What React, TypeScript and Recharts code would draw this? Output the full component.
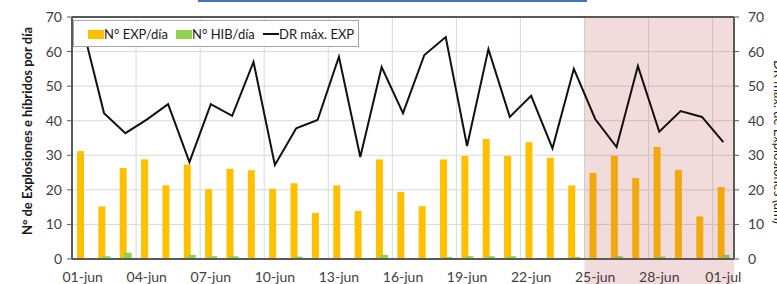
import {
  ComposedChart,
  Bar,
  Line,
  XAxis,
  YAxis,
  CartesianGrid,
  ReferenceArea,
  ReferenceLine,
  Legend,
} from 'recharts'

const days = [
  '01-jun', '02-jun', '03-jun', '04-jun', '05-jun', '06-jun', '07-jun', '08-jun',
  '09-jun', '10-jun', '11-jun', '12-jun', '13-jun', '14-jun', '15-jun', '16-jun',
  '17-jun', '18-jun', '19-jun', '20-jun', '21-jun', '22-jun', '23-jun', '24-jun',
  '25-jun', '26-jun', '27-jun', '28-jun', '29-jun', '30-jun', '01-jul',
]

// N° EXP/día
const expPerDay = [
  31.2, 15.2, 26.3, 28.8, 21.3, 27.3, 20.2, 26.1, 25.7, 20.3, 21.9, 13.3, 21.3, 13.9, 28.8, 19.4,
  15.3, 28.8, 29.8, 34.7, 29.8, 33.8, 29.3, 21.3, 24.9, 29.8, 23.4, 32.4, 25.8, 12.3, 20.8,
]

// N° HIB/día
const hibPerDay = [
  0, 0.8, 1.8, 0, 0, 1.2, 0.8, 0.8, 0, 0, 0.7, 0, 0, 0, 1.2, 0,
  0, 0.6, 0.8, 0.8, 0.8, 0, 0, 0.6, 0, 0.8, 0, 0.7, 0, 0, 1.2,
]

// DR máx. EXP (right axis)
const drMaxExp = [
  67, 42.2, 36.4, 40.3, 44.8, 28, 44.8, 41.4, 57, 27.2, 37.8, 40.2, 58.5, 29.5, 55.5, 42.2,
  59, 64.2, 32.7, 60.7, 41.1, 47.2, 32, 55, 40.5, 32.4, 55.8, 36.8, 42.8, 41.1, 33.8,
]

const yTicks = [0, 10, 20, 30, 40, 50, 60, 70]
const legendOrder = ['N° EXP/día', 'N° HIB/día', 'DR máx. EXP']

const FONT = 'Lato, "Open Sans", sans-serif'
const AXIS = '#595959'
const TICK = { fill: '#404040', fontSize: 14, fontFamily: FONT }

const gridX = ({ xAxis, offset }: any) => {
  const out: number[] = []
  for (let i = 3; i < days.length; i += 3) {
    const s = xAxis && typeof xAxis.scale === 'function' ? xAxis.scale(days[i]) : undefined
    out.push(typeof s === 'number' && !isNaN(s) ? s : offset.left + (offset.width / days.length) * i)
  }
  return out
}

const LegendBox = ({ payload }: any) => {
  const lefts = [14, 102, 189]
  const items = [...(payload || [])].sort(
    (a: any, b: any) => legendOrder.indexOf(a.value) - legendOrder.indexOf(b.value),
  )
  return (
    <div
      style={{
        position: 'relative',
        width: 286,
        height: 27,
        boxSizing: 'border-box',
        border: '1px solid #A6A6A6',
        background: '#fff',
        fontFamily: FONT,
        fontSize: 13,
        color: '#1a1a1a',
      }}
    >
      {items.map((p: any, i: number) => (
        <div
          key={p.value}
          style={{ position: 'absolute', left: lefts[i], top: 5, display: 'flex', alignItems: 'center', whiteSpace: 'nowrap' }}
        >
          {p.type === 'line' ? (
            <span style={{ display: 'inline-block', width: 16, height: 2, background: p.color }} />
          ) : (
            <span style={{ display: 'inline-block', width: 16, height: 9, background: p.color }} />
          )}
          <span style={{ lineHeight: '16px' }}>{p.value}</span>
        </div>
      ))}
    </div>
  )
}

export default function App() {
  const data = days.map((d, i) => ({ day: d, exp: expPerDay[i], hib: hibPerDay[i], dr: drMaxExp[i] }))

  return (
    <div
      style={{
        position: 'absolute',
        left: 0,
        top: 0,
        width: 777,
        height: 284,
        overflow: 'hidden',
        background: '#fff',
        fontFamily: FONT,
      }}
    >
      <div style={{ position: 'absolute', left: 198, top: 0, width: 389, height: 2, background: '#4472C4' }} />
      <ComposedChart
        width={777}
        height={284}
        data={data}
        margin={{ top: 17, right: 0, bottom: 0, left: 0 }}
        barGap={-3}
      >
        <CartesianGrid stroke="#D9D9D9" verticalCoordinatesGenerator={gridX} yAxisId="left" />
        <XAxis
          dataKey="day"
          interval={2}
          height={25}
          tickLine={false}
          tickSize={0}
          tickMargin={13}
          axisLine={{ stroke: AXIS, strokeWidth: 2 }}
          tick={TICK}
        />
        <YAxis
          yAxisId="left"
          domain={[0, 70]}
          ticks={yTicks}
          width={72}
          tickSize={5}
          tickMargin={5}
          tickLine={{ stroke: AXIS }}
          axisLine={{ stroke: AXIS, strokeWidth: 2 }}
          tick={TICK}
        />
        <YAxis
          yAxisId="right"
          orientation="right"
          domain={[0, 70]}
          ticks={yTicks}
          width={43}
          tickSize={5}
          tickMargin={9}
          tickLine={{ stroke: AXIS }}
          axisLine={{ stroke: AXIS, strokeWidth: 2 }}
          tick={TICK}
        />
        <Bar yAxisId="left" dataKey="exp" name="N° EXP/día" fill="#FFC000" barSize={7} legendType="rect" isAnimationActive={false} />
        <Bar yAxisId="left" dataKey="hib" name="N° HIB/día" fill="#92D050" barSize={8} legendType="rect" isAnimationActive={false} />
        <ReferenceArea
          yAxisId="left"
          x1="25-jun"
          x2="01-jul"
          y1={-7.3}
          y2={70}
          ifOverflow="visible"
          fill="#C0504D"
          fillOpacity={0.2}
          stroke="none"
          zIndex={350}
        />
        <ReferenceLine yAxisId="left" y={70} stroke={AXIS} strokeWidth={2} />
        <Line
          yAxisId="right"
          dataKey="dr"
          name="DR máx. EXP"
          type="linear"
          stroke="#111"
          strokeWidth={2}
          dot={false}
          legendType="line"
          isAnimationActive={false}
        />
        <Legend
          layout="vertical"
          align="center"
          verticalAlign="middle"
          wrapperStyle={{ left: 73, top: 20, width: 286, height: 27 }}
          content={LegendBox}
        />
      </ComposedChart>
      <div
        style={{
          position: 'absolute',
          left: 27,
          top: 131,
          transform: 'translate(-50%, -50%) rotate(-90deg)',
          whiteSpace: 'nowrap',
          fontWeight: 700,
          fontSize: 13,
          color: '#1a1a1a',
        }}
      >
        N° de Explosiones e híbridos por día
      </div>
      <div
        style={{
          position: 'absolute',
          left: 779,
          top: 142,
          transform: 'translate(-50%, -50%) rotate(90deg)',
          whiteSpace: 'nowrap',
          fontSize: 13,
          color: '#1a1a1a',
        }}
      >
        DR máx. de Explosiones (um)
      </div>
    </div>
  )
}
